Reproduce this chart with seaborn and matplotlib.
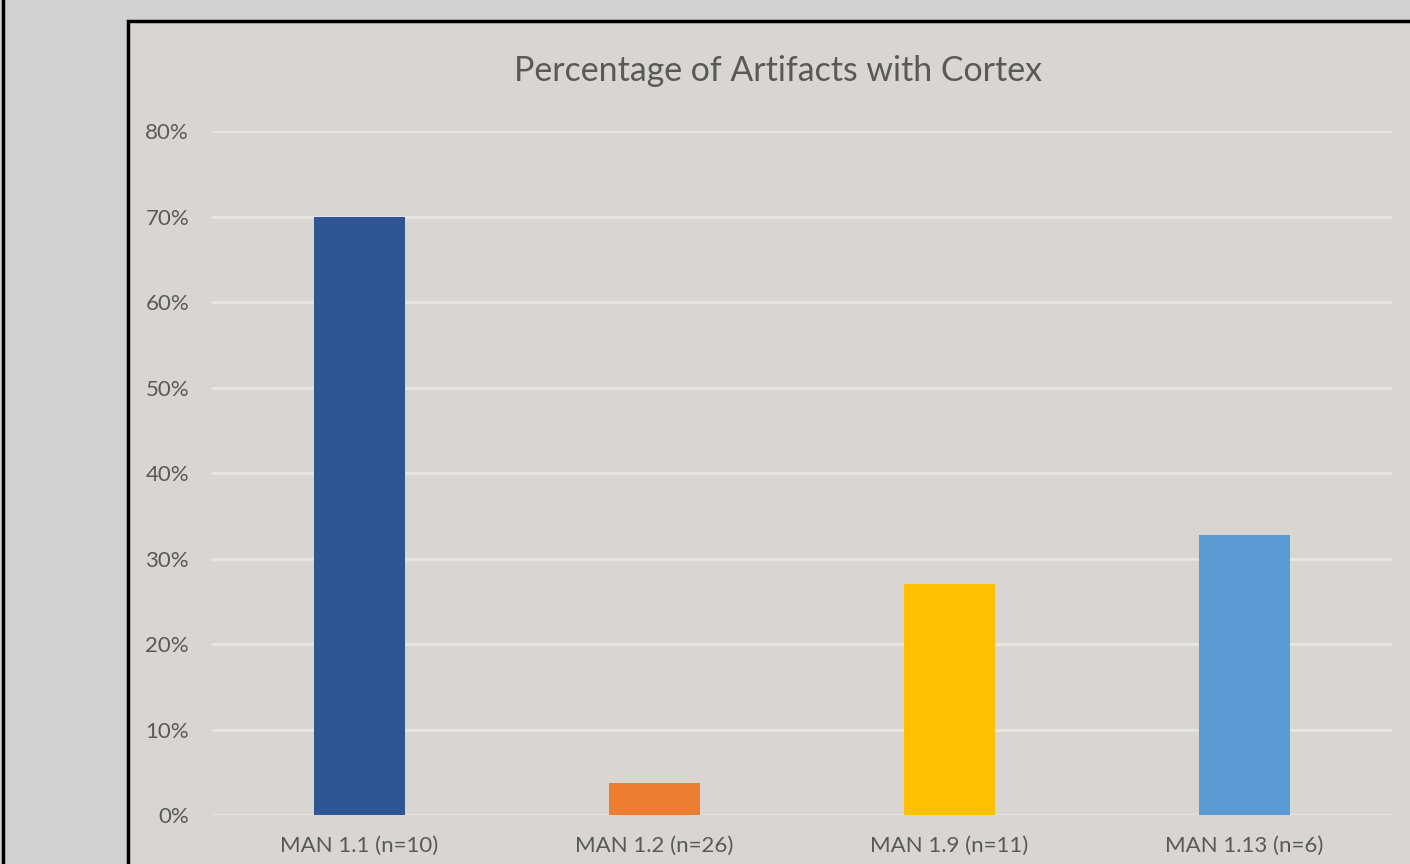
import matplotlib
matplotlib.use("Agg")
import matplotlib.pyplot as plt
import seaborn as sns
import pandas as pd
from matplotlib.patches import Rectangle
from matplotlib.lines import Line2D
from matplotlib.ticker import PercentFormatter

# data
categories = ["MAN 1.1 (n=10)", "MAN 1.2 (n=26)", "MAN 1.9 (n=11)", "MAN 1.13 (n=6)"]
pct_cortex = [70.0, 3.8, 27.0, 32.8]
bar_colors = ["#2E5594", "#ED7D31", "#FFC000", "#5B9BD5"]
y_ticks = [0, 10, 20, 30, 40, 50, 60, 70, 80]

df = pd.DataFrame({"group": categories, "pct": pct_cortex})

sns.set_theme(style="white")
plt.rcParams["font.family"] = ["Lato", "DejaVu Sans"]

W, H = 1410, 864
fig = plt.figure(figsize=(W / 100, H / 100), dpi=100)
fig.patch.set_facecolor("#D0D1D3")

# chart panel with black border (top and left visible)
fig.patches.append(Rectangle((128 / W, -0.1), 1.2, (H - 21) / H + 0.1,
                             transform=fig.transFigure, facecolor="#D9D6D1",
                             edgecolor="black", linewidth=2.5, zorder=-10))
fig.lines.append(Line2D([3 / W, 3 / W], [0, 1], transform=fig.transFigure,
                        color="black", linewidth=2.5, zorder=-10))

ax = fig.add_axes([212 / W, 1 - 815 / H, (1392 - 212) / W, (815 - 131) / H])
ax.set_facecolor("none")

sns.barplot(data=df, x="group", y="pct", hue="group", palette=bar_colors,
            width=0.31, legend=False, saturation=1, linewidth=0, ax=ax, zorder=3)

ax.set_ylim(0, 80)
ax.set_xlim(-0.5, 3.5)
ax.set_yticks(y_ticks)
ax.yaxis.set_major_formatter(PercentFormatter(decimals=0))
for t in y_ticks:
    ax.axhline(t, color="#E8E6E3", linewidth=2, zorder=1)

for s in ax.spines.values():
    s.set_visible(False)
ax.tick_params(axis="both", length=0, labelsize=16, colors="#595959")
ax.tick_params(axis="y", pad=16.5)
ax.tick_params(axis="x", pad=15)
ax.set_xlabel("")
ax.set_ylabel("")

fig.text(778 / W, 1 - 71 / H, "Percentage of Artifacts with Cortex",
         ha="center", va="center", fontsize=24.4, color="#595959")

fig.savefig("out.png", dpi=100, facecolor=fig.get_facecolor())
